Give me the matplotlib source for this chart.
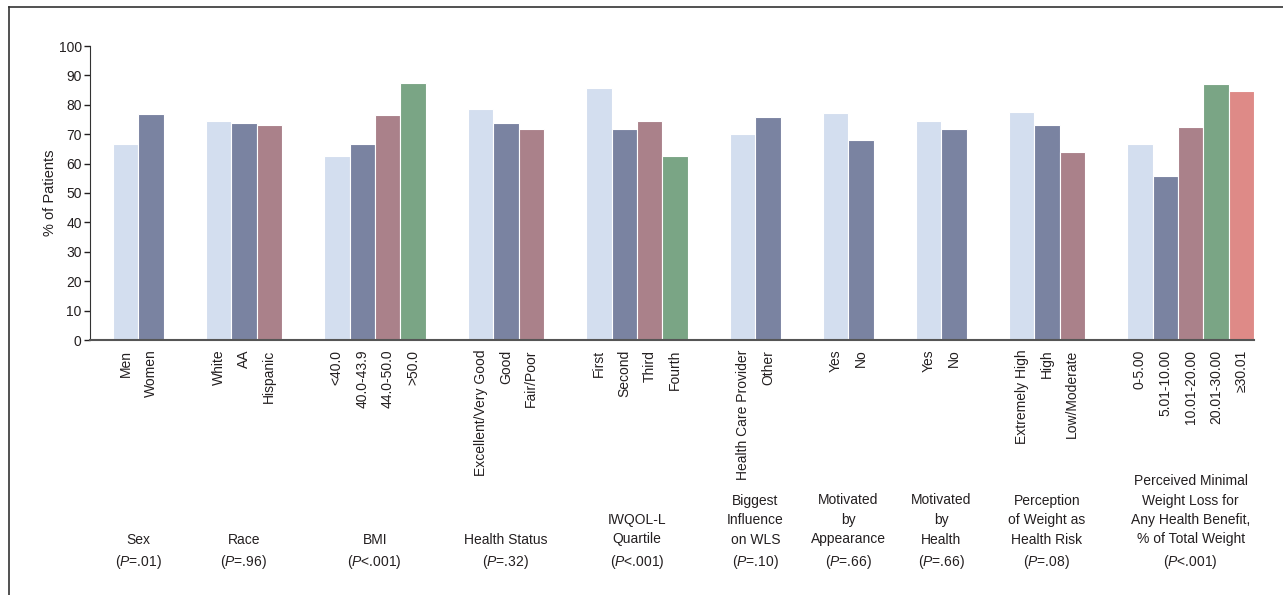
import matplotlib.pyplot as plt
from matplotlib.lines import Line2D
from matplotlib.transforms import blended_transform_factory

plt.rcParams['font.family'] = ['Liberation Sans', 'DejaVu Sans']
plt.rcParams['mathtext.fontset'] = 'custom'
plt.rcParams['mathtext.it'] = 'Liberation Sans:italic'
plt.rcParams['mathtext.rm'] = 'Liberation Sans'

# data
groups = [
    "Sex\n($\\it{P}$=.01)",
    "Race\n($\\it{P}$=.96)",
    "BMI\n($\\it{P}$<.001)",
    "Health Status\n($\\it{P}$=.32)",
    "IWQOL-L\nQuartile\n($\\it{P}$<.001)",
    "Biggest\nInfluence\non WLS\n($\\it{P}$=.10)",
    "Motivated\nby\nAppearance\n($\\it{P}$=.66)",
    "Motivated\nby\nHealth\n($\\it{P}$=.66)",
    "Perception\nof Weight as\nHealth Risk\n($\\it{P}$=.08)",
    "Perceived Minimal\nWeight Loss for\nAny Health Benefit,\n% of Total Weight\n($\\it{P}$<.001)",
]
categories = [
    ["Men", "Women"],
    ["White", "AA", "Hispanic"],
    ["<40.0", "40.0-43.9", "44.0-50.0", ">50.0"],
    ["Excellent/Very Good", "Good", "Fair/Poor"],
    ["First", "Second", "Third", "Fourth"],
    ["Health Care Provider", "Other"],
    ["Yes", "No"],
    ["Yes", "No"],
    ["Extremely High", "High", "Low/Moderate"],
    ["0-5.00", "5.01-10.00", "10.01-20.00", "20.01-30.00", "\u226530.01"],
]
values = [
    [66.7, 76.8],
    [74.4, 73.8, 73.1],
    [62.7, 66.7, 76.5, 87.3],
    [78.6, 73.9, 71.8],
    [85.8, 71.8, 74.4, 62.6],
    [70.0, 75.9],
    [77.1, 68.1],
    [74.4, 71.9],
    [77.7, 73.1, 64.1],
    [66.6, 55.9, 72.4, 87.1, 84.7],
]
colors = ["#D3DEEF", "#7A83A1", "#AA818A", "#7AA585", "#DE8A87"]
txt = "#231F20"

fig = plt.figure(figsize=(12.83, 5.95), dpi=100)
ax = fig.add_axes([90 / 1283, 255 / 595, (1254 - 90) / 1283, 294 / 595])

lead, gap = 0.9, 1.667
x = lead
tick_pos, tick_lab, centers = [], [], []
for cats, vals in zip(categories, values):
    xs = [x + i + 0.5 for i in range(len(vals))]
    ax.bar(xs, vals, width=1.0, color=colors[:len(vals)],
           edgecolor="white", linewidth=0.8)
    tick_pos += xs
    tick_lab += cats
    centers.append(x + len(vals) / 2)
    x += len(vals) + gap
ax.set_xlim(0, x - gap)
ax.set_ylim(0, 100)

ax.set_xticks(tick_pos)
ax.set_xticklabels(tick_lab, rotation=90, fontsize=10, color=txt)
ax.tick_params(axis="x", length=0, pad=7)
ax.set_yticks(range(0, 101, 10))
ax.tick_params(axis="y", length=4, width=1, pad=2, labelsize=10,
               colors=txt)
ax.set_ylabel("% of Patients", fontsize=10.5, color=txt)
ax.yaxis.set_label_coords(-0.028, 0.5)

for s in ["top", "right"]:
    ax.spines[s].set_visible(False)
ax.spines["left"].set_color("#333333")
ax.spines["bottom"].set_color("#555555")
ax.spines["bottom"].set_linewidth(1.5)

trans = blended_transform_factory(ax.transData, fig.transFigure)
for c, g in zip(centers, groups):
    ax.text(c, 24 / 595, g, transform=trans, ha="center", va="bottom",
            fontsize=10, color=txt, linespacing=1.5)

fig.add_artist(Line2D([9 / 1283, 9 / 1283], [0, 1 - 7 / 595],
                      transform=fig.transFigure, color="#333333", lw=1.2))
fig.add_artist(Line2D([9 / 1283, 1], [1 - 7 / 595, 1 - 7 / 595],
                      transform=fig.transFigure, color="#333333", lw=1.2))

fig.savefig("out.png", dpi=100)
